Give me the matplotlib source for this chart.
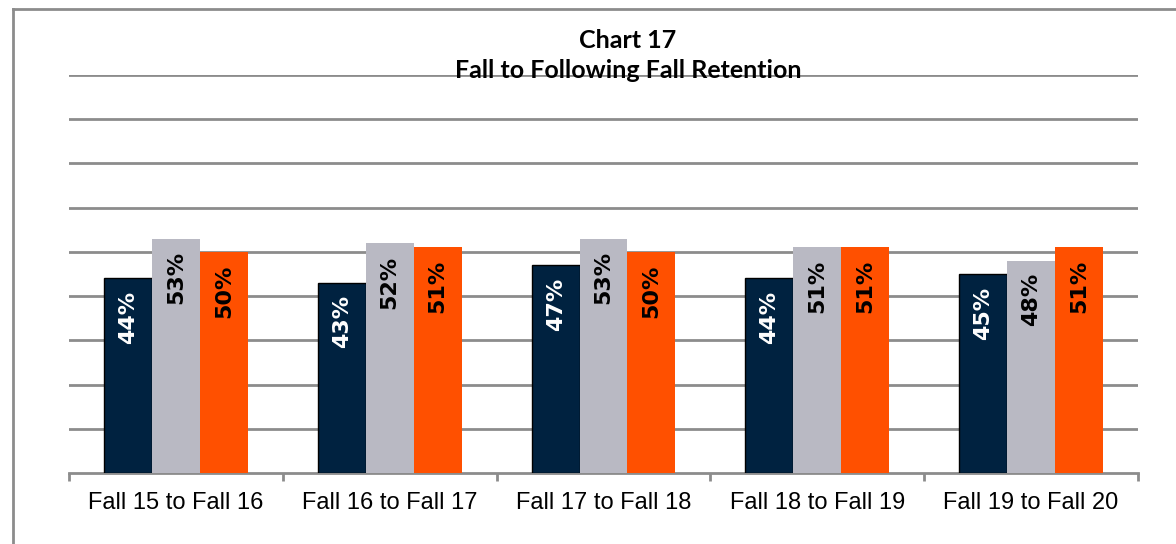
import matplotlib.pyplot as plt
import numpy as np
from matplotlib.lines import Line2D

# Chart data
categories = ['Fall 15 to Fall 16', 'Fall 16 to Fall 17', 'Fall 17 to Fall 18',
              'Fall 18 to Fall 19', 'Fall 19 to Fall 20']
series_a = [44, 43, 47, 44, 45]
series_b = [53, 52, 53, 51, 48]
series_c = [50, 51, 50, 51, 51]

navy = '#002240'
gray = '#b9b9c3'
orange = '#ff5000'

fig = plt.figure(figsize=(11.76, 5.44), dpi=100)
ax = fig.add_axes([69 / 1176, 1 - 473 / 544, (1138 - 69) / 1176, (473 - 75) / 544])

x = np.arange(len(categories))
w = 0.224
bars_a = ax.bar(x - w, series_a, w, color=navy, edgecolor='black', linewidth=1, zorder=3)
bars_b = ax.bar(x, series_b, w, color=gray, linewidth=0, zorder=3)
bars_c = ax.bar(x + w, series_c, w, color=orange, linewidth=0, zorder=3)

label_font = dict(fontfamily='DejaVu Sans', fontweight='bold', fontsize=16,
                  rotation=90, ha='center', va='top')
for bars, vals, col in [(bars_a, series_a, 'white'), (bars_b, series_b, 'black'),
                        (bars_c, series_c, 'black')]:
    for b, v in zip(bars, vals):
        ax.annotate(f'{v}%', (b.get_x() + b.get_width() / 2, v),
                    xytext=(0, -9), textcoords='offset points',
                    color=col, zorder=4, **label_font)

ax.set_xlim(-0.5, len(categories) - 0.5)
ax.set_ylim(0, 90)
ax.set_yticks(np.arange(10, 91, 10))
ax.yaxis.grid(True, color='#8c8c8c', linewidth=2)
ax.set_axisbelow(True)
ax.tick_params(axis='y', length=0, labelleft=False)

ax.set_xticks(np.arange(-0.5, len(categories), 1))
ax.set_xticklabels([])
ax.set_xticks(x, minor=True)
ax.set_xticklabels(categories, minor=True, fontfamily='Liberation Sans', fontsize=17)
ax.tick_params(axis='x', which='major', length=6, width=2, color='#8c8c8c')
ax.tick_params(axis='x', which='minor', length=0, pad=14)

for s in ['top', 'right', 'left']:
    ax.spines[s].set_visible(False)
ax.spines['bottom'].set_color('#8c8c8c')
ax.spines['bottom'].set_linewidth(2)

fig.text(628 / 1176, 1 - 40 / 544, 'Chart 17', ha='center', va='center',
         fontfamily='Lato', fontweight='bold', fontsize=18)
fig.text(628 / 1176, 1 - 71 / 544, 'Fall to Following Fall Retention', ha='center',
         va='center', fontfamily='Lato', fontweight='bold', fontsize=18)

# frame edges of the cropped chart area
fig.add_artist(Line2D([13 / 1176, 13 / 1176], [0, 1 - 9 / 544], color='#8c8c8c', linewidth=2))
fig.add_artist(Line2D([13 / 1176, 1], [1 - 9 / 544, 1 - 9 / 544], color='#8c8c8c', linewidth=2))

fig.savefig('out.png', dpi=100)
